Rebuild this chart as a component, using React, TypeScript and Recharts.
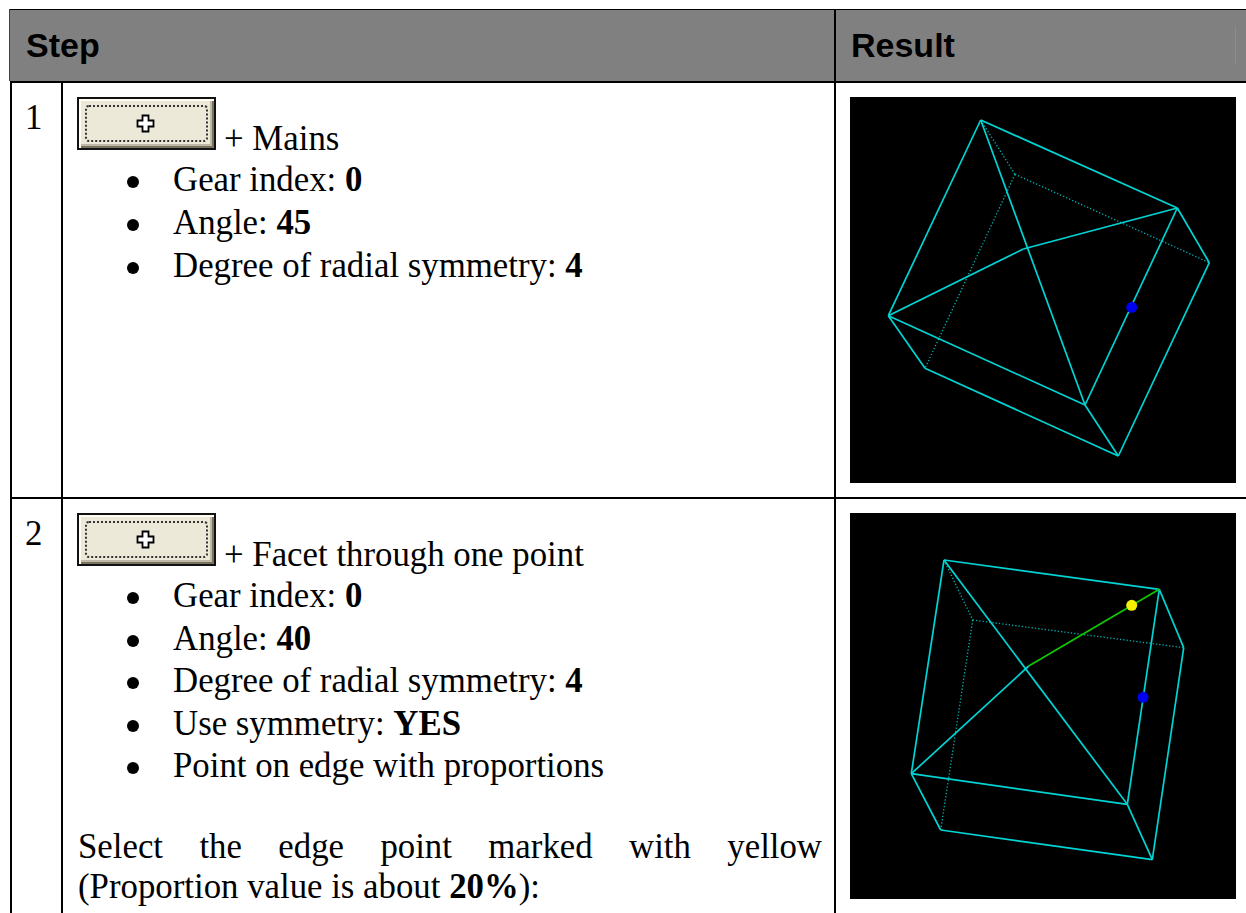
import React from "react";
import { LineChart, Line, XAxis, YAxis } from "recharts";

const headerLabels = ["Step", "Result"];
const rowNumbers = ["1", "2"];
const firstTitle = "+ Mains";
const secondTitle = "+ Facet through one point";
const PANEL_SIZE = 386;

type P = [number, number];
const firstVertices: Record<string, P> = {
  A: [130.7, 23], B: [327.3, 111], C: [359.3, 165.7], D: [268.3, 359], E: [235, 308],
  F: [38.3, 218.7], G: [75, 271.3], H: [165, 77.3], I: [173.3, 152],
};
const firstSolid = ["AB", "AF", "FE", "EB", "BC", "CD", "DE", "FG", "GD", "AE", "FI", "IB"];
const firstDotted = ["AH", "HC", "HG"];
const firstMarkers: { x: number; y: number; color: string }[] = [{ x: 281.7, y: 210.3, color: "#0000f0" }];

const secondVertices: Record<string, P> = {
  A: [94, 47], B: [309.3, 76.3], C: [333.7, 134.7], D: [302.3, 346.7], E: [277.3, 291.3],
  F: [61.3, 260.7], G: [90.7, 317], H: [122.7, 107], I: [178.7, 153],
};
const secondSolid = ["AB", "AF", "FE", "EB", "BC", "CD", "DE", "FG", "GD", "AE", "FI"];
const secondDotted = ["AH", "HC", "HG"];
const secondGreen = ["IB"];
const secondMarkers: { x: number; y: number; color: string }[] = [
  { x: 281.7, y: 92.3, color: "#f5f000" },
  { x: 293, y: 184.3, color: "#0000f0" },
];

const serif = "'Liberation Serif', serif";
const sans = "'Liberation Sans', sans-serif";

function Wire({ vertices, solid, dotted, green = [], markers, top }: {
  vertices: Record<string, P>; solid: string[]; dotted: string[]; green?: string[];
  markers: { x: number; y: number; color: string }[]; top: number;
}) {
  const seg = (e: string) => [e[0], e[1]].map((k) => ({ x: vertices[k][0], y: vertices[k][1] }));
  return (
    <div style={{ position: "absolute", left: 850, top, width: PANEL_SIZE, height: PANEL_SIZE, background: "#000" }}>
      <LineChart width={PANEL_SIZE} height={PANEL_SIZE} margin={{ top: 0, right: 0, bottom: 0, left: 0 }}>
        <XAxis type="number" dataKey="x" domain={[0, PANEL_SIZE]} hide allowDataOverflow />
        <YAxis type="number" dataKey="y" domain={[0, PANEL_SIZE]} reversed hide allowDataOverflow />
        {dotted.map((e) => (
          <Line key={"d" + e} data={seg(e)} dataKey="y" stroke="#00b0b0" strokeWidth={1.3} strokeDasharray="1.3 2" dot={false} isAnimationActive={false} />
        ))}
        {solid.map((e) => (
          <Line key={"s" + e} data={seg(e)} dataKey="y" stroke="#00d4d4" strokeWidth={1.7} dot={false} isAnimationActive={false} />
        ))}
        {green.map((e) => (
          <Line key={"g" + e} data={seg(e)} dataKey="y" stroke="#10c800" strokeWidth={1.7} dot={false} isAnimationActive={false} />
        ))}
        {markers.map((m) => (
          <Line key={m.color} data={[m]} dataKey="y" stroke="none"
            dot={{ r: 5.5, fill: m.color, stroke: "none" }} isAnimationActive={false} />
        ))}
      </LineChart>
    </div>
  );
}

function Btn({ top }: { top: number }) {
  return (
    <div style={{
      position: "absolute", left: 77, top, width: 139, height: 53, boxSizing: "border-box",
      border: "2px solid #111", background: "#ece9d8",
      boxShadow: "inset 2px 2px 0 #fffdf2, inset -2px -2px 0 #77735f, inset -4px -4px 0 #bdb9a6",
    }}>
      <div style={{
        position: "absolute", left: 6, top: 6, right: 6, bottom: 6,
        border: "2px dotted #333", borderRadius: 4, boxSizing: "border-box",
      }} />
      <svg width="19" height="19" viewBox="0 0 19 19" style={{ position: "absolute", left: 57, top: 15 }}>
        <path d="M6.5 1.5h6v5h5v6h-5v5h-6v-5h-5v-6h5z" fill="#fff" stroke="#000" strokeWidth="1.8" />
      </svg>
    </div>
  );
}

function T({ x, y, children, style }: { x: number; y: number; children: React.ReactNode; style?: React.CSSProperties }) {
  return (
    <div style={{
      position: "absolute", left: x, top: y, whiteSpace: "nowrap", fontFamily: serif,
      fontSize: 34.8, lineHeight: "36px", color: "#000", ...style,
    }}>{children}</div>
  );
}

function Bullet({ y, children }: { y: number; children: React.ReactNode }) {
  return (
    <>
      <div style={{ position: "absolute", left: 127, top: y + 14, width: 12, height: 12, borderRadius: "50%", background: "#000" }} />
      <T x={173} y={y}>{children}</T>
    </>
  );
}

function Rule({ x, y, w, h, c = "#000" }: { x: number; y: number; w: number; h: number; c?: string }) {
  return <div style={{ position: "absolute", left: x, top: y, width: w, height: h, background: c }} />;
}

export default function App() {
  return (
    <div style={{ position: "absolute", left: 0, top: 0, width: 1246, height: 913, overflow: "hidden", background: "#fff" }}>
      <Rule x={10} y={10} w={1236} h={71} c="#808080" />
      <Rule x={9} y={9} w={1237} h={1} />
      <Rule x={10} y={81} w={1236} h={2} />
      <Rule x={9} y={9} w={1} h={72} c="#404040" />
      <Rule x={10} y={83} w={2} h={830} />
      <Rule x={61} y={83} w={2} h={830} />
      <Rule x={834} y={9} w={2} h={904} />
      <Rule x={10} y={497} w={1236} h={2} />
      <Rule x={1235} y={26} w={1} h={39} c="#8c8c8c" />

      <div style={{ position: "absolute", left: 26, top: 27, fontFamily: sans, fontWeight: 700, fontSize: 34, lineHeight: "36px", color: "#000" }}>{headerLabels[0]}</div>
      <div style={{ position: "absolute", left: 851, top: 27, fontFamily: sans, fontWeight: 700, fontSize: 34, lineHeight: "36px", color: "#000" }}>{headerLabels[1]}</div>

      <T x={25} y={100}>{rowNumbers[0]}</T>
      <Btn top={97} />
      <T x={224} y={121}>{firstTitle}</T>
      <Bullet y={162}>Gear index: <b>0</b></Bullet>
      <Bullet y={205}>Angle: <b>45</b></Bullet>
      <Bullet y={248}>Degree of radial symmetry: <b>4</b></Bullet>

      <T x={25} y={516}>{rowNumbers[1]}</T>
      <Btn top={513} />
      <T x={224} y={537}>{secondTitle}</T>
      <Bullet y={578}>Gear index: <b>0</b></Bullet>
      <Bullet y={621}>Angle: <b>40</b></Bullet>
      <Bullet y={663}>Degree of radial symmetry: <b>4</b></Bullet>
      <Bullet y={706}>Use symmetry: <b>YES</b></Bullet>
      <Bullet y={748}>Point on edge with proportions</Bullet>
      <T x={78} y={829} style={{ width: 744, whiteSpace: "normal", textAlign: "justify", textAlignLast: "justify" }}>Select the edge point marked with yellow</T>
      <T x={78} y={869}>(Proportion value is about <b>20%</b>):</T>

      <Wire vertices={firstVertices} solid={firstSolid} dotted={firstDotted} markers={firstMarkers} top={97} />
      <Wire vertices={secondVertices} solid={secondSolid} dotted={secondDotted} green={secondGreen} markers={secondMarkers} top={513} />
    </div>
  );
}
